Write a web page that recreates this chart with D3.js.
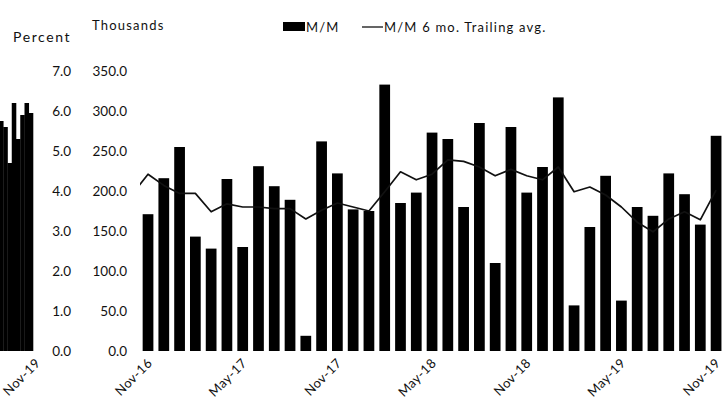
<!DOCTYPE html>
<html>
<head>
<meta charset="utf-8">
<script src="https://cdn.jsdelivr.net/npm/d3@7"></script>
<style>
  body { margin: 0; background: #fff; }
  svg text { font-family: "Century Gothic", Lato, "Noto Sans", sans-serif; fill: #111; }
</style>
</head>
<body>
<div id="chart"></div>
<script>
// monthly categories, Nov-16 .. Nov-19
var months = ["Nov-16","Dec-16","Jan-17","Feb-17","Mar-17","Apr-17","May-17","Jun-17","Jul-17","Aug-17","Sep-17","Oct-17",
  "Nov-17","Dec-17","Jan-18","Feb-18","Mar-18","Apr-18","May-18","Jun-18","Jul-18","Aug-18","Sep-18","Oct-18",
  "Nov-18","Dec-18","Jan-19","Feb-19","Mar-19","Apr-19","May-19","Jun-19","Jul-19","Aug-19","Sep-19","Oct-19","Nov-19"];
var tickMonths = ["Nov-16","May-17","Nov-17","May-18","Nov-18","May-19","Nov-19"];

// M/M change, thousands
var mm = [171, 216, 255, 143, 128, 215, 130, 231, 206, 189, 19, 262,
  222, 177, 175, 333, 185, 198, 273, 265, 180, 285, 110, 280,
  198, 230, 317, 57, 155, 219, 63, 180, 169, 222, 196, 158, 269];

// 6 mo. trailing average, thousands (plus the Oct-16 point that runs off the left edge)
var avgLead = 196;
var avg = [221, 207, 197, 197, 174, 184, 180, 180, 178, 178, 165, 176,
  185, 180, 175, 199, 224, 214, 221, 239, 237, 230, 219, 227,
  219, 214, 230, 199, 205, 195, 180, 161, 149, 165, 174, 164, 201];

// cropped neighbour panel on the left, percent
var leftVals = [5.75, 5.6, 4.7, 6.2, 5.3, 5.9, 6.2, 5.95];
var leftLabel = "Nov-19";

var W = 724, H = 411;
var svg = d3.select("#chart").append("svg")
    .attr("width", W)
    .attr("height", H);

var y = d3.scaleLinear().domain([0, 350]).range([351, 71]);
var yPct = d3.scaleLinear().domain([0, 7]).range([351, 71]);

var x = d3.scaleBand().domain(months).range([139.5, 724.6])
    .paddingInner(0.32).paddingOuter(0.2);
var xl = d3.scaleBand().domain(d3.range(leftVals.length)).range([-1, 33]).padding(0);

function cx(m) { return x(m) + x.bandwidth() / 2; }

// left cropped panel bars
svg.append("g").selectAll("rect")
    .data(leftVals)
  .enter().append("rect")
    .attr("x", function(d, i) { return xl(i); })
    .attr("y", function(d) { return yPct(d); })
    .attr("width", xl.bandwidth() + 0.3)
    .attr("height", function(d) { return yPct(0) - yPct(d); })
    .attr("fill", "#000");

svg.append("text")
    .attr("text-anchor", "end")
    .attr("font-size", 13)
    .attr("letter-spacing", 0.4)
    .attr("transform", "translate(41,364) rotate(-45)")
    .text(leftLabel);

// axes
var pctAxis = svg.append("g")
    .attr("transform", "translate(74,0)")
    .call(d3.axisLeft(yPct).tickValues(d3.range(0, 7.1, 1)).tickFormat(d3.format(".1f")).tickSize(0).tickPadding(3));
var thAxis = svg.append("g")
    .attr("transform", "translate(130,0)")
    .call(d3.axisLeft(y).tickValues(d3.range(0, 351, 50)).tickFormat(d3.format(".1f")).tickSize(0).tickPadding(3));
[pctAxis, thAxis].forEach(function(a) {
  a.select(".domain").remove();
  a.selectAll("text").attr("font-size", 13.5).attr("font-family", null).attr("fill", "#111");
});

svg.append("text").attr("x", 13).attr("y", 42).attr("font-size", 14).attr("letter-spacing", 1.6).text("Percent");
svg.append("text").attr("x", 92).attr("y", 30).attr("font-size", 13).attr("letter-spacing", 1.2).text("Thousands");

// bars
var plot = svg.append("g");
plot.selectAll(".bar")
    .data(mm)
  .enter().append("rect")
    .attr("class", "bar")
    .attr("x", function(d, i) { return x(months[i]); })
    .attr("y", function(d) { return y(d); })
    .attr("width", x.bandwidth())
    .attr("height", function(d) { return y(0) - y(d); })
    .attr("fill", "#000");

// trailing average line, clipped to the plot area
svg.append("clipPath").attr("id", "plotclip")
  .append("rect").attr("x", 140).attr("y", 60).attr("width", 590).attr("height", 300);

var linePts = [[cx(months[0]) - x.step(), avgLead]].concat(avg.map(function(d, i) { return [cx(months[i]), d]; }));
svg.append("path")
    .datum(linePts)
    .attr("clip-path", "url(#plotclip)")
    .attr("fill", "none")
    .attr("stroke", "#111")
    .attr("stroke-width", 1.7)
    .attr("stroke-linejoin", "round")
    .attr("d", d3.line().x(function(d) { return d[0]; }).y(function(d) { return y(d[1]); }));

// x tick labels
svg.append("g").selectAll("text")
    .data(tickMonths)
  .enter().append("text")
    .attr("text-anchor", "end")
    .attr("font-size", 13)
    .attr("letter-spacing", 0.4)
    .attr("transform", function(d) { return "translate(" + (cx(d) + 5) + ",364) rotate(-45)"; })
    .text(function(d) { return d; });

// legend
var lg = svg.append("g");
lg.append("rect").attr("x", 283).attr("y", 22).attr("width", 22).attr("height", 9).attr("fill", "#000");
lg.append("text").attr("x", 306).attr("y", 31.5).attr("font-size", 13).attr("letter-spacing", 1.2).text("M/M");
lg.append("line").attr("x1", 362).attr("x2", 383).attr("y1", 27).attr("y2", 27)
    .attr("stroke", "#111").attr("stroke-width", 1.3);
lg.append("text").attr("x", 384).attr("y", 31.5).attr("font-size", 13).attr("letter-spacing", 1.2).text("M/M 6 mo. Trailing avg.");
</script>
</body>
</html>
